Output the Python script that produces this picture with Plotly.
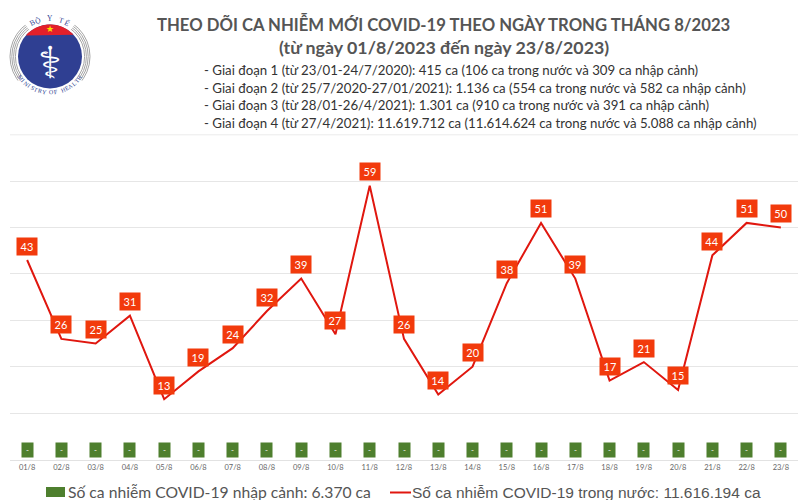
import math
import plotly.graph_objects as go

days = ["01/8","02/8","03/8","04/8","05/8","06/8","07/8","08/8","09/8","10/8","11/8","12/8",
        "13/8","14/8","15/8","16/8","17/8","18/8","19/8","20/8","21/8","22/8","23/8"]
domestic = [43,26,25,31,13,19,24,32,39,27,59,26,14,20,38,51,39,17,21,15,44,51,50]
imported = [0,0,0,0,0,0,0,0,0,0,0,0,0,0,0,0,0,0,0,0,0,0,0]
imported_labels = ["-"]*23
title_lines = ["THEO DÕI CA NHIỄM MỚI COVID-19 THEO NGÀY TRONG THÁNG 8/2023",
               "(từ ngày 01/8/2023 đến ngày 23/8/2023)"]
phases = ["- Giai đoạn 1 (từ 23/01-24/7/2020): 415 ca (106 ca trong nước và 309 ca nhập cảnh)",
          "- Giai đoạn 2 (từ 25/7/2020-27/01/2021): 1.136 ca (554 ca trong nước và 582 ca nhập cảnh)",
          "- Giai đoạn 3 (từ 28/01-26/4/2021): 1.301 ca (910 ca trong nước và 391 ca nhập cảnh)",
          "- Giai đoạn 4 (từ 27/4/2021): 11.619.712 ca (11.614.624 ca trong nước và 5.088 ca nhập cảnh)"]
legend_import = "Số ca nhiễm COVID-19 nhập cảnh: 6.370 ca"
legend_domestic = "Số ca nhiễm COVID-19 trong nước: 11.616.194 ca"

W, H = 800, 500
RED = "#E0170F"; BOX = "#F23A0C"; GREEN = "#4E7F2E"; TXT = "#555555"
FONT = "Lato, 'Noto Sans', sans-serif"
px = lambda v: v / W
py = lambda v: 1 - v / H

fig = go.Figure()
fig.add_trace(go.Bar(x=days, y=imported, marker_color=GREEN, showlegend=False, hoverinfo="skip"))
fig.add_trace(go.Scatter(x=days, y=domestic, mode="lines", line=dict(color=RED, width=2),
                         showlegend=False, hoverinfo="skip"))

ann = []
for d, v in zip(days, domestic):
    ann.append(dict(x=d, y=v, xref="x", yref="y", text=str(v), showarrow=False, yshift=14,
                    bgcolor=BOX, width=18, height=15, borderpad=1,
                    font=dict(color="white", size=11, family=FONT)))
for d, v, t in zip(days, imported, imported_labels):
    ann.append(dict(x=d, y=v, xref="x", yref="y", text=t, showarrow=False, yshift=9.5,
                    bgcolor=GREEN, width=9, height=12, borderpad=1,
                    font=dict(color="white", size=8, family=FONT)))

def text(x, y, s, size, color=TXT, anchor="center", family=FONT, angle=0):
    ann.append(dict(x=px(x), y=py(y), xref="paper", yref="paper", text=s, showarrow=False,
                    xanchor=anchor, yanchor="middle", textangle=angle,
                    font=dict(size=size, color=color, family=family)))

text(443, 23, "<b>%s</b>" % title_lines[0], 16.7)
text(444, 47, "<b>%s</b>" % title_lines[1], 17.8)
for y, s in zip([70, 87.5, 105, 122.5], phases):
    text(202, y, s, 13.25, color="#333333", anchor="left")
text(66, 492, legend_import, 15.7, color="#555555", anchor="left")
text(410, 492, legend_domestic, 15.5, color="#555555", anchor="left", family="'Liberation Sans', Arial, sans-serif")

shapes = [
    dict(type="rect", xref="paper", yref="paper", x0=px(46), x1=px(65), y0=py(497), y1=py(487),
         fillcolor=GREEN, line_width=0),
    dict(type="line", xref="paper", yref="paper", x0=px(390), x1=px(411), y0=py(492.5), y1=py(492.5),
         line=dict(color=RED, width=2)),
    dict(type="line", xref="x domain", yref="y", x0=0, x1=1, y0=70, y1=70,
         line=dict(color="#e6e6e6", width=1), layer="below"),
]

# logo
def circ(cx, cy, r, fill=None, line=None, lw=0):
    return dict(type="circle", xref="paper", yref="paper", x0=px(cx-r), x1=px(cx+r), y0=py(cy+r), y1=py(cy-r),
                fillcolor=fill or "rgba(0,0,0,0)", line=dict(color=line or "rgba(0,0,0,0)", width=lw))
cx, cy = 50, 56.5
for r in (40, 38.2, 36.4, 34.6):
    shapes.append(circ(cx, cy, r, line="#a5a5a5", lw=1))
def wedge(a0, a1, r, fill):
    pts = [(cx, cy)] + [(cx + r*math.cos(math.radians(a0 + (a1-a0)*i/24)),
                         cy - r*math.sin(math.radians(a0 + (a1-a0)*i/24))) for i in range(25)]
    return dict(type="path", xref="paper", yref="paper", line_width=0, fillcolor=fill,
                path="M " + " L ".join("%f %f" % (px(x), py(y)) for x, y in pts) + " Z")
shapes.append(wedge(52, 128, 43, "white"))
shapes.append(wedge(217, 323, 43, "white"))
shapes.append(circ(cx, cy, 32, fill="#2F3F92"))
top = [(cx + 32 * math.cos(math.radians(t)), cy - 32 * math.sin(math.radians(t))) for t in range(139, 40, -4)]
d = "M " + " L ".join("%f %f" % (px(x), py(y)) for x, y in top) + " Z"
shapes.append(dict(type="path", xref="paper", yref="paper", path=d, fillcolor="#E3202A", line_width=0))
text(50, 29.5, "★", 9, color="#F7E000", family="'DejaVu Sans'")
text(50, 62, "⚕", 44, color="white", family="'DejaVu Sans'")
for ch, ang in zip("BỘ Y TẾ", [-27, -18, -9, 0, 9, 18, 27]):
    a = math.radians(ang)
    text(cx + 38*math.sin(a), cy - 38*math.cos(a), ch, 7.5, color="#2F3F92", family="'Liberation Serif'", angle=ang)
s = "MINISTRY OF HEALTH"
for i, ch in enumerate(s):
    ang = -54 + i * 108 / (len(s) - 1)
    a = math.radians(ang)
    text(cx + 36*math.sin(a), cy + 36*math.cos(a), ch, 6, color="#2F3F92", family="'Liberation Serif'", angle=-ang)

fig.update_layout(
    width=W, height=H, paper_bgcolor="white", plot_bgcolor="white",
    margin=dict(l=0, r=0, t=0, b=0, pad=0), autosize=False,
    annotations=ann, shapes=shapes, bargap=0.7,
    xaxis=dict(type="category", domain=[10/W, 798/W], automargin=False,
               tickfont=dict(size=7.5, color="#666666", family=FONT), ticks="",
               showgrid=False, showline=True, linecolor="#e2e2e2", linewidth=1, tickangle=0),
    yaxis=dict(range=[0, 70.1], domain=[40.5/H, 1-134.3/H], automargin=False, dtick=10,
               showticklabels=False, showgrid=True, gridcolor="#e6e6e6", gridwidth=1,
               zeroline=False),
)
fig.write_html("out.html", config={"displayModeBar": False},
               post_script="document.body.style.margin='0';")
